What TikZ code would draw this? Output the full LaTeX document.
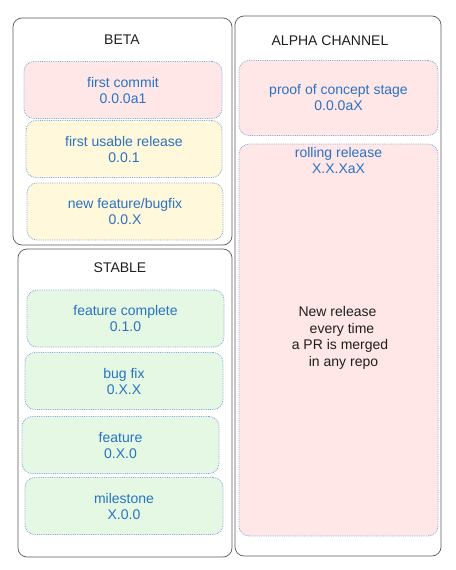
\documentclass[tikz,border=0pt]{standalone}
\usepackage{fontspec}
\setmainfont{Liberation Sans}
\usetikzlibrary{positioning}
\definecolor{linec}{HTML}{5A5A5A}
\definecolor{textc}{HTML}{2A72C3}
\definecolor{dotc}{HTML}{7FA7DA}
\definecolor{pinkbg}{HTML}{FFE7E7}
\definecolor{yellbg}{HTML}{FFF8DA}
\definecolor{greenbg}{HTML}{E4F8E4}
\tikzset{
  lane/.style={draw=linec,line width=0.7pt,rounded corners=9pt,inner sep=0pt},
  stage/.style={draw=dotc,line width=0.8pt,densely dotted,rounded corners=10pt,fill=#1,text=textc,align=center,
    font=\fontsize{14}{16}\selectfont,inner sep=0pt},
  ttl/.style={font=\fontsize{14}{16}\selectfont,text=black!88}
}
\begin{document}
\begin{tikzpicture}[x=1pt,y=-1pt]
\useasboundingbox (0,0) rectangle (455,570);
% lanes
\node[lane,minimum width=219,minimum height=227] (beta) at (122.5,131.5) {};
\node[lane,minimum width=214,minimum height=308] (stable) at (125,403) {};
\node[lane,minimum width=206,minimum height=540] (alpha) at (338,286) {};
\node[ttl] (betat) at (122,40) {BETA};
\node[ttl] (stablet) at (120,268) {STABLE};
\node[ttl] (alphat) at (330,41) {ALPHA CHANNEL};
% beta stages
\foreach \nm/\cx/\cy/\w/\c/\t in {b1/123/90/198/pinkbg/{first commit\\0.0.0a1},
  b2/124/149/196/yellbg/{first usable release\\0.0.1},
  b3/125/211.5/196/yellbg/{new feature/bugfix\\0.0.X}}
  \node[stage=\c,minimum width=\w,minimum height=57] (\nm) at (\cx,\cy) {\t};
% stable stages
\foreach \nm/\cx/\cy/\w/\t in {s1/125.5/318.5/197/{feature complete\\0.1.0},
  s2/124/381/198/{bug fix\\0.X.X},
  s3/120.5/445/197/{feature\\0.X.0},
  s4/124/506/198/{milestone\\X.0.0}}
  \node[stage=greenbg,minimum width=\w,minimum height=57] (\nm) at (\cx,\cy) {\t};
% alpha stages
\node[stage=pinkbg,minimum width=199,minimum height=75] (poc) at (338.5,98) {proof of concept stage\\0.0.0aX};
\node[stage=pinkbg,minimum width=199,minimum height=392] (roll) at (338.5,340) {};
\node[text=textc,align=center,font=\fontsize{14}{16}\selectfont,inner sep=0pt,below=4pt of roll.north] (rollt) {rolling release\\X.X.XaX};
\node[ttl,align=center,font=\fontsize{14}{16.7}\selectfont,inner sep=0pt] (rollnote) at (340,338)
  {New release\hspace*{5pt}\\\hspace*{4pt}every time\\a PR is merged\\\hspace*{7pt}in any repo};
\end{tikzpicture}
\end{document}
